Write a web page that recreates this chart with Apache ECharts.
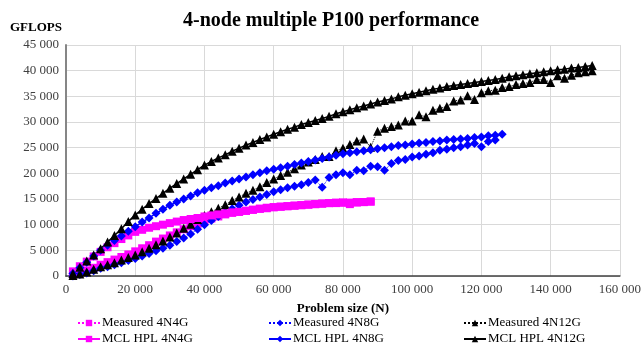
<!DOCTYPE html>
<html>
<head>
<meta charset="utf-8">
<script src="https://cdn.jsdelivr.net/npm/echarts@6/dist/echarts.min.js"></script>
<style>
  html, body { margin: 0; padding: 0; background: #fff; }
  #chart { width: 644px; height: 345px; }
</style>
</head>
<body>
<div id="chart"></div>
<script>
// problem sizes (N), one point every 2 000
const problemSizes = [
  2000, 4000, 6000, 8000, 10000, 12000, 14000, 16000, 18000, 20000,
  22000, 24000, 26000, 28000, 30000, 32000, 34000, 36000, 38000, 40000,
  42000, 44000, 46000, 48000, 50000, 52000, 54000, 56000, 58000, 60000,
  62000, 64000, 66000, 68000, 70000, 72000, 74000, 76000, 78000, 80000,
  82000, 84000, 86000, 88000, 90000, 92000, 94000, 96000, 98000, 100000,
  102000, 104000, 106000, 108000, 110000, 112000, 114000, 116000, 118000, 120000,
  122000, 124000, 126000, 128000, 130000, 132000, 134000, 136000, 138000, 140000,
  142000, 144000, 146000, 148000, 150000, 152000
];

// GFLOPS
const measured4N4G = [
  300, 700, 1100, 1600, 2200, 2700, 3200, 3700, 4200, 4800,
  5400, 6000, 6700, 7300, 7900, 8500, 9100, 9700, 10200, 10700,
  11200, 11600, 12000, 12300, 12500, 12700, 12900, 13100, 13200, 13400,
  13500, 13600, 13700, 13800, 13900, 14000, 14100, 14200, 14200, 14300,
  14000, 14300, 14400, 14500
];
const mcl4N4G = [
  900, 1900, 2800, 3800, 4700, 5600, 6400, 7200, 7900, 8600,
  9000, 9400, 9700, 10000, 10300, 10600, 10900, 11100, 11300, 11600,
  11800, 12000, 12200, 12400, 12500, 12700, 12900, 13100, 13300, 13400,
  13500, 13600, 13700, 13800, 13900, 14000, 14100, 14200, 14300, 14300,
  14300, 14400, 14400, 14500
];
const measured4N8G = [
  0, 300, 600, 1000, 1500, 1800, 2200, 2600, 3000, 3400,
  3900, 4400, 4900, 5400, 6000, 6700, 7400, 8200, 9100, 10000,
  10800, 11600, 12400, 13100, 13800, 14400, 14900, 15400, 15900, 16400,
  16800, 17200, 17500, 17800, 18200, 18700, 17300, 19200, 19700, 20100,
  19700, 20600, 20500, 21400, 21300, 20600, 21900, 22500, 22700, 23200,
  23400, 23700, 24000, 24500, 24700, 25000, 25200, 25500, 25800, 25200,
  26200, 26500
];
const mcl4N8G = [
  500, 1600, 2700, 3900, 5000, 6000, 6900, 7800, 8700, 9600,
  10500, 11300, 12200, 13000, 13800, 14400, 15000, 15600, 16200, 16700,
  17200, 17600, 18100, 18500, 18900, 19300, 19700, 20100, 20500, 20800,
  21100, 21400, 21700, 22000, 22300, 22600, 22900, 23200, 23500, 23800,
  24000, 24200, 24400, 24600, 24800, 25000, 25200, 25400, 25500, 25700,
  25900, 26000, 26200, 26300, 26500, 26600, 26700, 26800, 27000, 27100,
  27300, 27400, 27600
];
const measured4N12G = [
  100, 400, 800, 1300, 1800, 2200, 2600, 3100, 3600, 4100,
  4700, 5400, 6100, 6800, 7600, 8400, 9300, 10100, 11000, 11800,
  12500, 13200, 13900, 14700, 15400, 16100, 16700, 17400, 18200, 18900,
  19600, 20200, 20900, 21600, 22200, 22700, 23300, 23300, 24400, 24900,
  25600, 26300, 26700, 25100, 28200, 28800, 29100, 29400, 30200, 30200,
  31400, 31000, 32300, 32700, 33000, 34100, 34300, 35100, 34400, 35700,
  36100, 36200, 36700, 36900, 37300, 37500, 37700, 38300, 38300, 37700,
  39000, 38500, 39100, 39600, 39800, 40000
];
const mcl4N12G = [
  500, 1700, 2900, 4100, 5300, 6600, 7900, 9200, 10600, 11900,
  13000, 14100, 15100, 16100, 17100, 18000, 18900, 19800, 20700, 21600,
  22300, 23000, 23600, 24300, 24900, 25500, 26000, 26600, 27100, 27600,
  28100, 28600, 29000, 29500, 29900, 30300, 30700, 31100, 31600, 32000,
  32400, 32800, 33100, 33500, 33900, 34200, 34500, 34900, 35200, 35500,
  35800, 36100, 36400, 36600, 36900, 37100, 37300, 37500, 37700, 37900,
  38100, 38300, 38500, 38800, 39000, 39200, 39400, 39600, 39800, 40000,
  40200, 40300, 40500, 40600, 40800, 41000
];

const serif = "'Liberation Serif', 'DejaVu Serif', serif";
const spaced = v => String(v).replace(/\B(?=(\d{3})+(?!\d))/g, " ");
const pairs = ys => ys.map((y, i) => [problemSizes[i], y]);

const seriesDefs = [
  { name: "Measured 4N4G", data: measured4N4G, color: "#ff00ff", symbol: "rect", size: 8, dotted: true },
  { name: "Measured 4N8G", data: measured4N8G, color: "#0000ff", symbol: "diamond", size: 9, dotted: true },
  { name: "Measured 4N12G", data: measured4N12G, color: "#000000", symbol: "triangle", size: 9, dotted: true },
  { name: "MCL HPL 4N4G", data: mcl4N4G, color: "#ff00ff", symbol: "rect", size: 8, dotted: false },
  { name: "MCL HPL 4N8G", data: mcl4N8G, color: "#0000ff", symbol: "diamond", size: 9, dotted: false },
  { name: "MCL HPL 4N12G", data: mcl4N12G, color: "#000000", symbol: "triangle", size: 9, dotted: false }
];

const legendLeft = [72, 263, 458];
const legendTop = [311, 327];

const chart = echarts.init(document.getElementById("chart"));
chart.setOption({
  animation: false,
  title: {
    text: "4-node multiple P100 performance",
    left: 178,
    top: 6,
    textStyle: { fontFamily: serif, fontSize: 20, fontWeight: "bold", color: "#000" }
  },
  legend: seriesDefs.map((s, i) => ({
    data: [s.name],
    left: legendLeft[i % 3],
    top: legendTop[Math.floor(i / 3)],
    itemWidth: 22,
    itemHeight: 8,
    selectedMode: false,
    textStyle: { fontFamily: serif, fontSize: 13, lineHeight: 14, color: "#000", padding: [0, 0, 0, -3] }
  })),
  grid: { left: 66, right: 20, top: 45, bottom: 69 },
  xAxis: {
    type: "value",
    min: 0,
    max: 160000,
    interval: 20000,
    name: "Problem size (N)",
    nameLocation: "middle",
    nameGap: 26,
    nameTextStyle: { fontFamily: serif, fontSize: 13, fontWeight: "bold", color: "#000" },
    axisLine: { lineStyle: { color: "#404040", width: 1.5 } },
    axisTick: { show: false },
    axisLabel: { formatter: spaced, fontFamily: serif, fontSize: 13, color: "#404040", margin: 7 },
    splitLine: { lineStyle: { color: "#d9d9d9" } }
  },
  yAxis: {
    type: "value",
    min: 0,
    max: 45000,
    interval: 5000,
    name: "GFLOPS",
    nameLocation: "end",
    nameGap: 11,
    nameTextStyle: { fontFamily: serif, fontSize: 13, fontWeight: "bold", color: "#000", align: "right", padding: [0, 4, 0, 0] },
    axisLine: { show: true, lineStyle: { color: "#868686", width: 2 } },
    axisTick: { show: false },
    axisLabel: { formatter: spaced, fontFamily: serif, fontSize: 13, color: "#404040", margin: 7 },
    splitLine: { lineStyle: { color: "#d9d9d9" } }
  },
  series: seriesDefs.map(s => ({
    name: s.name,
    type: "line",
    data: pairs(s.data),
    symbol: s.symbol,
    symbolSize: s.size,
    showAllSymbol: true,
    color: s.color,
    itemStyle: { color: s.color },
    lineStyle: { color: s.color, width: s.dotted ? 1 : 1.5, type: s.dotted ? "dotted" : "solid" }
  }))
});
</script>
</body>
</html>
